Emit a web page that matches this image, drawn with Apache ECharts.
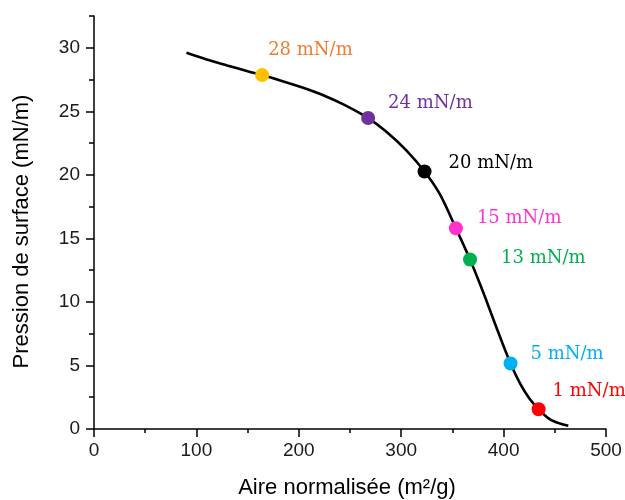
<!DOCTYPE html>
<html>
<head>
<meta charset="utf-8">
<script src="https://cdn.jsdelivr.net/npm/echarts@6/dist/echarts.min.js"></script>
<style>html,body{margin:0;padding:0;background:#fff;}#c{width:625px;height:500px;}</style>
</head>
<body>
<div id="c"></div>
<script>
// Isotherm curve (area m²/g, pressure mN/m)
var curveX = [90.3,110,130,150,164.2,185,205,225,245,267.7,285,305,322.8,338,353.4,367.2,380,393,406.8,416,425,434.2,445,455,463.2];
var curveY = [29.6,29.07,28.61,28.16,27.85,27.35,26.83,26.23,25.49,24.47,23.43,21.93,20.26,18.44,15.8,13.34,10.78,7.99,5.15,3.59,2.42,1.55,0.78,0.43,0.26];

// Highlighted points
var markerNames = ['28 mN/m','24 mN/m','20 mN/m','15 mN/m','13 mN/m','5 mN/m','1 mN/m'];
var markerX = [164.2,267.7,322.8,353.4,367.2,406.8,434.2];
var markerY = [27.85,24.47,20.26,15.8,13.34,5.15,1.55];

// Axis ticks
var xTicks = [0,100,200,300,400,500];
var yTicks = [0,5,10,15,20,25,30];
var yMinorTicks = [2.5,7.5,12.5,17.5,22.5,27.5,32.5];

// Styles
var markerColors = ['#FFC000','#7030A0','#000000','#FF33CC','#00B050','#00B0F0','#FF0000'];
var labelColors = ['#ED7D31','#7030A0','#000000','#FF33CC','#00B050','#00B0F0','#FF0000'];
var labelOffsets = [[6,-25],[20,-15],[24,-8],[21,-10],[31,-1],[20,-9],[14,-18]];

var chart = echarts.init(document.getElementById('c'), null, {renderer:'canvas'});

var series = [{
  type:'line',
  data: curveX.map(function(x,i){return [x, curveY[i]];}),
  smooth: 0.3,
  showSymbol:false,
  symbol:'none',
  lineStyle:{color:'#000', width:2.6},
  z:2,
  silent:true
}];
markerNames.forEach(function(n,i){
  var off = labelOffsets[i];
  series.push({
    type:'scatter',
    name:n,
    data:[[markerX[i], markerY[i]]],
    symbolSize:14,
    itemStyle:{color:markerColors[i], opacity:1},
    z:5,
    label:{
      show:true,
      formatter:n,
      position:[off[0]+7, off[1]+7],
      align:'left',
      verticalAlign:'middle',
      color:labelColors[i],
      fontFamily:'DejaVu Serif',
      fontSize:18
    }
  });
});

var axisTextStyle = {color:'#1a1a1a', fontFamily:'Liberation Sans', fontSize:19};

chart.setOption({
  animation:false,
  backgroundColor:'#fff',
  grid:{left:94, right:19, top:16, bottom:71, containLabel:false, outerBoundsMode:'none'},
  xAxis:{
    type:'value', min:0, max:500, interval:100,
    name:'Aire normalisée (m²/g)', nameLocation:'middle', nameGap:48,
    nameTextStyle:{color:'#000', fontFamily:'Liberation Sans', fontSize:22, padding:[0,6,0,0]},
    axisLine:{show:true, onZero:false, lineStyle:{color:'#000', width:1.5}},
    axisTick:{show:true, inside:false, length:8, lineStyle:{color:'#000', width:1.5}},
    minorTick:{show:true, splitNumber:2, length:4, lineStyle:{color:'#000', width:1.5}},
    axisLabel:Object.assign({margin:12, customValues:xTicks}, axisTextStyle),
    splitLine:{show:false}
  },
  yAxis:[{
    type:'value', min:0, max:32.5, interval:5, position:'left',
    name:'Pression de surface (mN/m)', nameLocation:'middle', nameGap:61,
    nameTextStyle:{color:'#000', fontFamily:'Liberation Sans', fontSize:22, padding:[0,18,0,0]},
    axisLine:{show:true, onZero:false, lineStyle:{color:'#000', width:1.5}},
    axisTick:{show:true, inside:false, length:8, customValues:yTicks, lineStyle:{color:'#000', width:1.5}},
    axisLabel:Object.assign({margin:14, customValues:yTicks}, axisTextStyle),
    splitLine:{show:false}
  },{
    type:'value', min:0, max:32.5, interval:2.5, position:'left', offset:0,
    axisLine:{show:false},
    axisTick:{show:true, inside:false, length:5, customValues:yMinorTicks, lineStyle:{color:'#000', width:1.5}},
    axisLabel:{show:false},
    splitLine:{show:false}
  }],
  series:series
});
</script>
</body>
</html>
